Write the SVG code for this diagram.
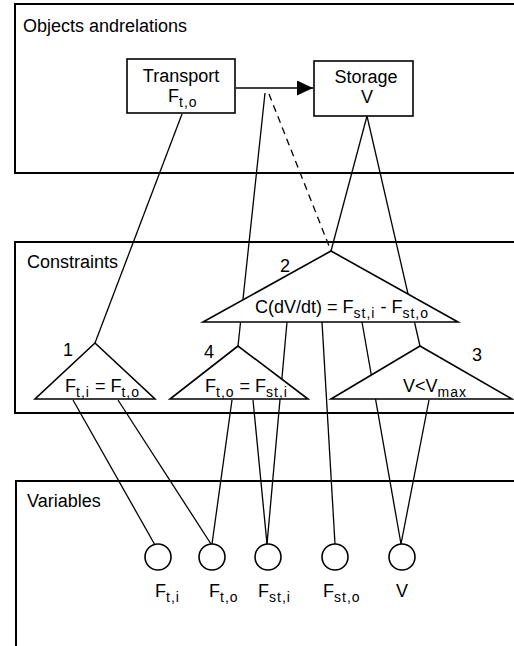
<svg xmlns="http://www.w3.org/2000/svg" width="514" height="646" viewBox="0 0 514 646">
<defs>
<style>
.panel{fill:none;stroke:#000;stroke-width:2}
.box{fill:#fff;stroke:#000;stroke-width:1.6}
.tri{fill:#fff;stroke:#000;stroke-width:1.6;stroke-linejoin:miter}
.var{fill:#fff;stroke:#000;stroke-width:1.6}
.ln{stroke:#000;stroke-width:1.3;fill:none}
.dash{stroke:#000;stroke-width:1.3;fill:none;stroke-dasharray:7 5}
text{font-family:"Liberation Sans",Arial,Helvetica,sans-serif;font-size:18px;fill:#000}
.sub{font-size:14px;letter-spacing:1px}
.mid{text-anchor:middle}
</style>
<marker id="ah" markerWidth="16" markerHeight="15" refX="16" refY="7.5" orient="auto" markerUnits="userSpaceOnUse">
<path d="M0,0 L16,7.5 L0,15 Z" fill="#000"/>
</marker>
</defs>
<g id="panels">
<rect class="panel" x="15" y="4" width="520" height="169"/>
<text x="23" y="32">Objects andrelations</text>
<rect class="panel" x="15" y="242" width="520" height="171"/>
<text x="27" y="268">Constraints</text>
<rect class="panel" x="16" y="481" width="520" height="200"/>
<text x="27" y="507">Variables</text>
</g>
<g id="connectors">
<line class="ln" x1="236" y1="88" x2="313" y2="88" marker-end="url(#ah)"/>
<line class="ln" x1="182" y1="114" x2="95" y2="343"/>
<line class="ln" x1="265" y1="93" x2="238" y2="346"/>
<line class="dash" x1="269" y1="94" x2="331" y2="251"/>
<line class="ln" x1="367" y1="116" x2="331" y2="251"/>
<line class="ln" x1="367" y1="116" x2="420" y2="346"/>
<line class="ln" x1="73" y1="400" x2="155" y2="545"/>
<line class="ln" x1="118" y1="400" x2="211" y2="544"/>
<line class="ln" x1="232" y1="400" x2="212" y2="544"/>
<line class="ln" x1="253" y1="400" x2="267" y2="544"/>
<line class="ln" x1="287" y1="322" x2="267" y2="544"/>
<line class="ln" x1="322" y1="322" x2="335" y2="544"/>
<line class="ln" x1="362" y1="322" x2="401" y2="544"/>
<line class="ln" x1="429" y1="400" x2="401" y2="544"/>
</g>
<g id="transport">
<rect class="box" x="127" y="59" width="108" height="54"/>
<text class="mid" x="181" y="82">Transport</text>
<text x="168" y="102">F<tspan class="sub" dy="5">t,o</tspan></text>
</g>
<g id="storage">
<rect class="box" x="314" y="61" width="99" height="55"/>
<text class="mid" x="366" y="83">Storage</text>
<text class="mid" x="367" y="103">V</text>
</g>
<g id="c2">
<polygon class="tri" points="331,251 203,322 458,322"/>
<text x="280" y="272">2</text>
<text x="255" y="313">C(dV/dt) = F<tspan class="sub" dy="5">st,i</tspan><tspan dy="-5"> - F</tspan><tspan class="sub" dy="5">st,o</tspan></text>
</g>
<g id="c1">
<polygon class="tri" points="95,343 35,399 155,399"/>
<text x="63" y="356">1</text>
<text x="65" y="392">F<tspan class="sub" dy="5">t,i</tspan><tspan dy="-5"> = F</tspan><tspan class="sub" dy="5">t,o</tspan></text>
</g>
<g id="c4">
<polygon class="tri" points="238,346 170,399 308,399"/>
<text x="204" y="358">4</text>
<text x="205" y="392">F<tspan class="sub" dy="5">t,o</tspan><tspan dy="-5"> = F</tspan><tspan class="sub" dy="5">st,i</tspan></text>
</g>
<g id="c3">
<polygon class="tri" points="420,346 331,399 512,399"/>
<text x="472" y="361">3</text>
<text x="403" y="392">V&lt;V<tspan class="sub" dy="5">max</tspan></text>
</g>
<g id="v_fti">
<circle class="var" cx="158" cy="557" r="13"/>
<text x="155" y="597">F<tspan class="sub" dy="5">t,i</tspan></text>
</g>
<g id="v_fto">
<circle class="var" cx="212" cy="557" r="13"/>
<text x="209" y="597">F<tspan class="sub" dy="5">t,o</tspan></text>
</g>
<g id="v_fsti">
<circle class="var" cx="268" cy="557" r="13"/>
<text x="258" y="597">F<tspan class="sub" dy="5">st,i</tspan></text>
</g>
<g id="v_fsto">
<circle class="var" cx="335" cy="557" r="13"/>
<text x="323" y="597">F<tspan class="sub" dy="5">st,o</tspan></text>
</g>
<g id="v_v">
<circle class="var" cx="402" cy="557" r="13"/>
<text class="mid" x="402" y="597">V</text>
</g>
</svg>
